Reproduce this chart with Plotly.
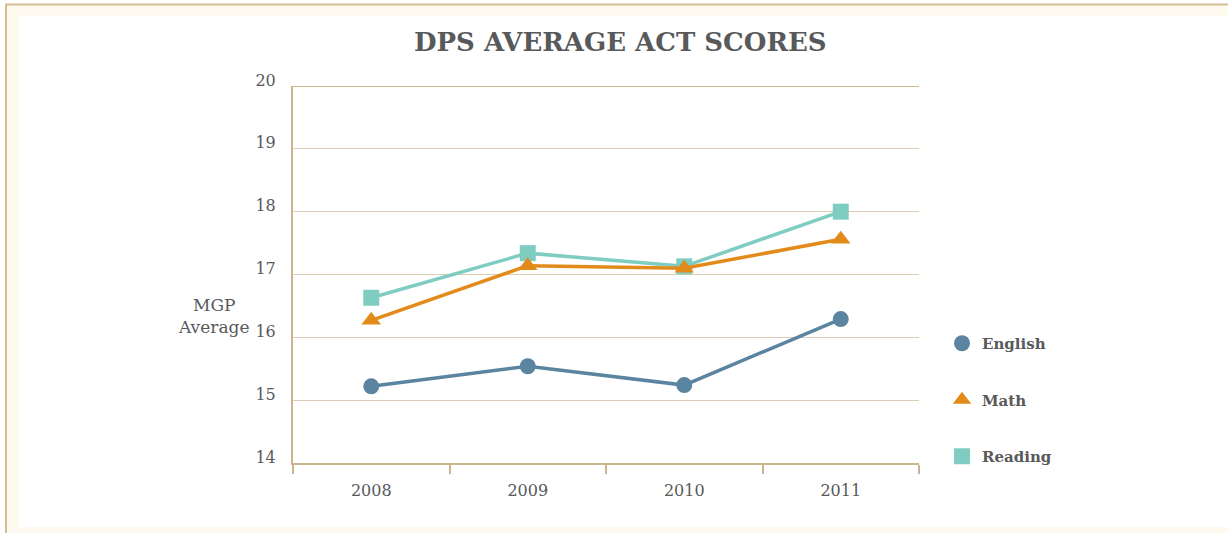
import plotly.graph_objects as go

years = ["2008", "2009", "2010", "2011"]
english = [15.22, 15.54, 15.24, 16.29]
math = [16.27, 17.14, 17.10, 17.56]
reading = [16.63, 17.34, 17.13, 18.00]
y_ticks = [14, 15, 16, 17, 18, 19, 20]

W, H = 1228, 533
ML, MR, MT, MB = 293, 309, 86, 70
PW, PH = W - ML - MR, H - MT - MB

def px(x):
    return (x - ML) / PW

def py(y):
    return (H - MB - y) / PH

C_EN, C_MA, C_RE = "#5b84a0", "#e38b1a", "#7fcdc1"
TXT = "#58595b"
TAN = "#cbb48e"
FONT = "DejaVu Serif"

fig = go.Figure()
fig.add_trace(go.Scatter(x=years, y=english, mode="lines+markers", name="English",
                         line=dict(color=C_EN, width=3.5),
                         marker=dict(symbol="circle", size=16, color=C_EN), showlegend=False))
fig.add_trace(go.Scatter(x=years, y=reading, mode="lines+markers", name="Reading",
                         line=dict(color=C_RE, width=3.5),
                         marker=dict(symbol="square", size=16, color=C_RE), showlegend=False))
fig.add_trace(go.Scatter(x=years, y=math, mode="lines+markers", name="Math",
                         line=dict(color=C_MA, width=3.5),
                         marker=dict(symbol="triangle-up", size=17, color=C_MA), showlegend=False))

# legend-only entries (markers only)
for nm, col, sym in [("English", C_EN, "circle"), ("Math", C_MA, "triangle-up"), ("Reading", C_RE, "square")]:
    fig.add_trace(go.Scatter(x=[None], y=[None], mode="markers", name=nm, legendgroup=nm,
                             marker=dict(symbol=sym, size=16, color=col), showlegend=True))

shapes = [
    # cream frame with tan border (left & top visible)
    dict(type="rect", xref="paper", yref="paper", x0=px(6), x1=px(W + 20), y0=py(H + 20), y1=py(4.5),
         fillcolor="#fffaef", line=dict(color="#d4bd94", width=2), layer="below"),
    dict(type="rect", xref="paper", yref="paper", x0=px(19), x1=px(W + 20), y0=py(527), y1=py(16),
         fillcolor="#ffffff", line=dict(width=0), layer="below"),
    # top line at 20
    dict(type="line", xref="paper", yref="y", x0=0, x1=1, y0=20, y1=20,
         line=dict(color=TAN, width=2), layer="below"),
]

annotations = [
    dict(text="<b>DPS AVERAGE ACT SCORES</b>", xref="paper", yref="paper", x=px(620), y=py(42),
         showarrow=False, font=dict(family=FONT, size=26, color=TXT), xanchor="center", yanchor="middle"),
    dict(text="MGP<br>Average", xref="paper", yref="paper", x=px(213), y=py(316),
         showarrow=False, font=dict(family=FONT, size=17, color=TXT), xanchor="center", yanchor="middle",
         align="center"),
]

fig.update_layout(
    width=W, height=H,
    margin=dict(l=ML, r=MR, t=MT, b=MB),
    paper_bgcolor="#ffffff", plot_bgcolor="rgba(0,0,0,0)",
    shapes=shapes, annotations=annotations,
    showlegend=True,
    legend=dict(x=px(942), y=py(327), xanchor="left", yanchor="top",
                font=dict(family=FONT, size=15, color=TXT, weight="bold"),
                tracegroupgap=34, traceorder="grouped", itemwidth=30,
                bgcolor="rgba(0,0,0,0)"),
    font=dict(family=FONT, color=TXT),
)
fig.update_xaxes(type="category", range=[-0.5, 3.5], showgrid=False, showline=True,
                 linecolor=TAN, linewidth=2, ticks="outside", tickson="boundaries",
                 ticklen=9, tickwidth=2, tickcolor=TAN,
                 tickfont=dict(family=FONT, size=16, color=TXT), ticklabelstandoff=12,
                 zeroline=False, fixedrange=True)
fig.update_yaxes(range=[14, 20], tickvals=y_ticks, showgrid=True, gridcolor="#dccdb3", gridwidth=1,
                 showline=True, linecolor=TAN, linewidth=2, ticks="",
                 tickfont=dict(family=FONT, size=16, color=TXT), ticklabelstandoff=12,
                 ticklabelshift=-6, zeroline=False, fixedrange=True)

fig.write_html("out.html", config={"displayModeBar": False},
               post_script="document.body.style.margin='0';document.body.style.overflow='hidden';")
